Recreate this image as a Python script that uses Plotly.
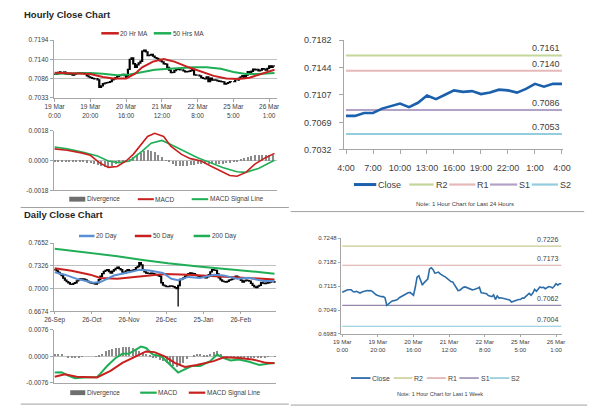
import plotly.graph_objects as go

W, H = 600, 413
def px(x): return x / W
def py(y): return 1 - y / H

FONT = "Liberation Sans, Arial, sans-serif"
TXT = "#404040"
AXC = "#a6a6a6"
GRID = "#c0c0c0"
RED = "#c8201e"
GREEN = "#1fae55"
BLUE20 = "#5b8fd4"
DIVC = "#8a8a8a"
CLOSE24 = "#1a60ad"
CLOSEW = "#2c6ca8"

# ---------------- hourly data (19 Mar 0:00 .. 26 Mar 4:00) ----------------
hourly_close = [
    0.7098, 0.7100, 0.7104, 0.7105, 0.7105, 0.7105, 0.7100, 0.7099, 0.7101, 0.7098,
    0.7096, 0.7099, 0.7101, 0.7102, 0.7103, 0.7102, 0.7103, 0.7100, 0.7094, 0.7091,
    0.7089, 0.7087, 0.7086, 0.7086, 0.7083, 0.7062, 0.7066, 0.7072, 0.7074, 0.7075,
    0.7076, 0.7078, 0.7083, 0.7086, 0.7089, 0.7093, 0.7095, 0.7097, 0.7098, 0.7095,
    0.7090, 0.7112, 0.7140, 0.7144, 0.7128, 0.7118, 0.7125, 0.7130, 0.7135, 0.7163,
    0.7166, 0.7161, 0.7151, 0.7152, 0.7154, 0.7149, 0.7145, 0.7143, 0.7140, 0.7136,
    0.7133, 0.7128, 0.7127, 0.7118, 0.7110, 0.7103, 0.7104, 0.7109, 0.7112, 0.7113,
    0.7111, 0.7111, 0.7108, 0.7105, 0.7106, 0.7107, 0.7109, 0.7112, 0.7097, 0.7096,
    0.7096, 0.7094, 0.7089, 0.7087, 0.7086, 0.7091, 0.7078, 0.7088, 0.7082, 0.7083,
    0.7082, 0.7080, 0.7079, 0.7078, 0.7077, 0.7071, 0.7073, 0.7075, 0.7078,
    0.7078, 0.7078, 0.7082, 0.7082, 0.7088, 0.7091, 0.7095, 0.7090, 0.7096, 0.7106,
    0.7101, 0.7107, 0.7113, 0.7111, 0.7112, 0.7108, 0.7110, 0.7114, 0.7113, 0.7110,
    0.7115, 0.7122, 0.7118, 0.7122, 0.7122,
]
hourly_tick_labels = ["19 Mar<br>0:00", "19 Mar<br>20:00", "20 Mar<br>16:00", "21 Mar<br>12:00",
                      "22 Mar<br>8:00", "25 Mar<br>5:00", "26 Mar<br>1:00"]
hourly_tick_step = 20

ma20_idx = [0, 9, 20, 27, 33, 40, 45, 49, 55, 61, 67, 75, 82, 89, 96, 103, 109, 116, 123]
ma20_val = [0.7103, 0.7102, 0.7099, 0.7091, 0.7087, 0.7087, 0.7100, 0.7118, 0.7134, 0.7141,
            0.7134, 0.7118, 0.7105, 0.7094, 0.7087, 0.7085, 0.7089, 0.7100, 0.7111]
ma50_idx = [0, 9, 20, 27, 35, 42, 49, 56, 64, 71, 78, 85, 93, 100, 107, 114, 123]
ma50_val = [0.7100, 0.7101, 0.7102, 0.7100, 0.7096, 0.7098, 0.7105, 0.7111, 0.7114, 0.7117,
            0.7118, 0.7118, 0.7114, 0.7105, 0.7099, 0.7099, 0.7102]

hmacd_idx = [0, 7, 15, 20, 25, 30, 35, 40, 44, 47, 52, 56, 61, 65, 71, 76, 82, 87, 93, 98,
             102, 107, 112, 118, 123]
hmacd_val = [0.00071, 0.00063, 0.00047, 0.00032, -0.00012, -0.00041, -0.00035, -0.00002,
             0.00038, 0.00077, 0.00146, 0.00165, 0.00146, 0.00087, 0.00038, 0.00012, -0.00002,
             -0.00031, -0.00061, -0.00090, -0.00094, -0.00071, -0.00021, 0.00018, 0.00044]
hsig_idx = [0, 7, 16, 24, 30, 36, 42, 49, 54, 60, 65, 73, 80, 87, 94, 102, 107, 114, 123]
hsig_val = [0.00083, 0.00071, 0.00051, 0.00028, -0.00002, -0.00012, -0.00002, 0.00057, 0.00106,
            0.00122, 0.00097, 0.00057, 0.00018, -0.00012, -0.00041, -0.00067, -0.00071,
            -0.00047, 0.00002]
hdiv_step = 2
hdiv_val = [
    -0.00004, -0.00004, -0.00005, -0.00005, -0.00006, -0.00006, -0.00007, -0.00008, -0.00010, -0.00012,
    -0.00015, -0.00020, -0.00026, -0.00032, -0.00036, -0.00036, -0.00030, -0.00022, -0.00012, -0.00005,
    0.00002, 0.00012, 0.00022, 0.00032, 0.00045, 0.00058, 0.00066, 0.00062, 0.00052, 0.00036,
    0.00020, 0.00004, -0.00010, -0.00022, -0.00030, -0.00034, -0.00034, -0.00032, -0.00028, -0.00024,
    -0.00022, -0.00020, -0.00020, -0.00020, -0.00020, -0.00020, -0.00020, -0.00018, -0.00016, -0.00012,
    -0.00008, -0.00002, 0.00006, 0.00014, 0.00022, 0.00028, 0.00032, 0.00034, 0.00035, 0.00035,
    0.00034, 0.00032,
]

# last 24 hours (25 Mar 4:00 .. 26 Mar 4:00)
last24_labels = ["4:00", "5:00", "6:00", "7:00", "8:00", "9:00", "10:00", "11:00", "12:00",
                 "13:00", "14:00", "15:00", "16:00", "17:00", "18:00", "19:00", "20:00", "21:00",
                 "22:00", "23:00", "0:00", "1:00", "2:00", "3:00", "4:00"]
last24_tick_step = 3
level_names = ["R2", "R1", "S1", "S2"]
level_colors_24 = ["#c3d69b", "#e6b9b8", "#b3a2c7", "#93cddd"]
levels_24 = [0.7161, 0.7140, 0.7086, 0.7053]
levels_week = [0.7226, 0.7173, 0.7062, 0.7004]
level_colors_week = ["#c9c98f", "#dba7a6", "#9287aa", "#86c6da"]

# ---------------- daily data (26 Sep .. 26 Mar) ----------------
daily_close = [
    0.7270, 0.7255, 0.7233, 0.7210, 0.7187, 0.7150, 0.7121, 0.7100, 0.7084, 0.7065,
    0.7061, 0.7075, 0.7084, 0.7110, 0.7131, 0.7138, 0.7140, 0.7135, 0.7125, 0.7108,
    0.7095, 0.7084, 0.7078, 0.7071, 0.7065, 0.7084, 0.7130, 0.7177, 0.7215, 0.7247,
    0.7260, 0.7270, 0.7245, 0.7224, 0.7250, 0.7270, 0.7290, 0.7307, 0.7285, 0.7270,
    0.7235, 0.7224, 0.7255, 0.7270, 0.7255, 0.7247, 0.7265, 0.7270, 0.7300, 0.7317,
    0.7372, 0.7340, 0.7270, 0.7240, 0.7224, 0.7218, 0.7214, 0.7220, 0.7214, 0.7205,
    0.7200, 0.7185, 0.7177, 0.7084, 0.7050, 0.7038, 0.7030, 0.7028, 0.7038, 0.7035,
    0.7028, 0.7015, 0.7000, 0.7045, 0.7131, 0.7140, 0.7154, 0.7180, 0.7200, 0.7215,
    0.7224, 0.7218, 0.7214, 0.7195, 0.7187, 0.7168, 0.7172, 0.7177, 0.7165, 0.7154,
    0.7170, 0.7200, 0.7240, 0.7270, 0.7265, 0.7261, 0.7210, 0.7154, 0.7125, 0.7108,
    0.7100, 0.7094, 0.7105, 0.7121, 0.7130, 0.7140, 0.7160, 0.7177, 0.7165, 0.7154,
    0.7120, 0.7094, 0.7110, 0.7121, 0.7115, 0.7108, 0.7075, 0.7047, 0.7025, 0.7014,
    0.7035, 0.7047, 0.7084, 0.7078, 0.7071, 0.7078, 0.7084, 0.7095, 0.7108, 0.7100,
    0.7094,
]
daily_flash_idx = 73
daily_flash_low = 0.6745
daily_tick_labels = ["26-Sep", "26-Oct", "26-Nov", "26-Dec", "25-Jan", "26-Feb"]
daily_tick_step = 22

d20_idx = [0, 6, 13, 23, 27, 35, 44, 50, 56, 64, 69, 73, 79, 86, 94, 100, 108, 115, 123, 130]
d20_val = [0.7233, 0.7200, 0.7140, 0.7084, 0.7094, 0.7187, 0.7233, 0.7270, 0.7261, 0.7224,
           0.7140, 0.7120, 0.7168, 0.7154, 0.7200, 0.7187, 0.7140, 0.7154, 0.7108, 0.7108]
d50_idx = [0, 10, 21, 27, 37, 52, 65, 79, 90, 102, 113, 130]
d50_val = [0.7293, 0.7256, 0.7200, 0.7153, 0.7140, 0.7177, 0.7209, 0.7200, 0.7187, 0.7165,
           0.7150, 0.7131]
d200_idx = [0, 18, 37, 52, 67, 85, 102, 117, 130]
d200_val = [0.7572, 0.7525, 0.7465, 0.7410, 0.7362, 0.7316, 0.7284, 0.7247, 0.7214]

dmacd_idx = [0, 4, 8, 12, 17, 25, 27, 31, 36, 40, 44, 48, 51, 54, 58, 63, 67, 73, 75, 81, 86,
             92, 96, 100, 104, 109, 115, 121, 127, 130]
dmacd_val = [-0.0047, -0.0046, -0.0056, -0.0063, -0.0061, -0.0060, -0.0050, -0.0028, -0.0005,
             0.0007, 0.0008, 0.0019, 0.0028, 0.0024, 0.0005, 0.0000, -0.0019, -0.0047, -0.0042,
             -0.0028, -0.0028, -0.0014, 0.0005, -0.0005, -0.0012, -0.0009, -0.0016, -0.0025,
             -0.0021, -0.0019]
dsig_idx = [0, 6, 13, 25, 33, 40, 48, 54, 59, 65, 71, 77, 84, 94, 100, 109, 117, 125, 130]
dsig_val = [-0.0059, -0.0052, -0.0059, -0.0061, -0.0042, -0.0019, 0.0000, 0.0014, 0.0012,
            0.0000, -0.0019, -0.0031, -0.0025, -0.0014, -0.0003, -0.0005, -0.0009, -0.0019,
            -0.0020]
ddiv_step = 2
ddiv_val = [
    0.0008, 0.0008, 0.0006, 0.0000, -0.0004, -0.0005, -0.0005, -0.0003, -0.0001, 0.0000,
    0.0000, 0.0000, 0.0001, 0.0003, 0.0008, 0.0014, 0.0018, 0.0021, 0.0024, 0.0025,
    0.0026, 0.0027, 0.0026, 0.0024, 0.0020, 0.0016, 0.0012, 0.0008, 0.0003, -0.0002,
    -0.0006, -0.0010, -0.0014, -0.0019, -0.0024, -0.0028, -0.0030, -0.0026, -0.0018, -0.0008,
    0.0000, 0.0004, 0.0006, 0.0006, 0.0005, 0.0005, 0.0006, 0.0012, 0.0016, 0.0008,
    0.0000, -0.0004, -0.0004, -0.0003, -0.0003, -0.0004, -0.0004, -0.0005, -0.0006, -0.0006,
    -0.0006, -0.0005, -0.0003, -0.0001, 0.0000, 0.0001,
]

yt_A = [0.7033, 0.7086, 0.7140, 0.7194]
yt_B = [-0.0018, 0.0, 0.0018]
yt_C = [0.7032, 0.7069, 0.7107, 0.7144, 0.7182]
yt_D = [0.6674, 0.7000, 0.7326, 0.7652]
yt_E = [-0.0076, 0.0, 0.0076]
yt_F = [0.6983, 0.7049, 0.7115, 0.7182, 0.7248]

# ---------------- derived series ----------------
h_idx = list(range(len(hourly_close)))
h_open = [hourly_close[0]] + hourly_close[:-1]
h_high = [max(o, c) for o, c in zip(h_open, hourly_close)]
h_low = [min(o, c) for o, c in zip(h_open, hourly_close)]

d_idx = list(range(len(daily_close)))
d_open = [daily_close[0]] + daily_close[:-1]
d_high = [max(o, c) for o, c in zip(d_open, daily_close)]
d_low = [min(o, c) for o, c in zip(d_open, daily_close)]
d_low[daily_flash_idx] = daily_flash_low

hdiv_idx = list(range(0, len(hdiv_val) * hdiv_step, hdiv_step))
ddiv_idx = list(range(0, len(ddiv_val) * ddiv_step, ddiv_step))

c24 = hourly_close[-len(last24_labels):]
c24_idx = list(range(len(c24)))

fig = go.Figure()

def line(x, y, color, width, xa, ya):
    fig.add_trace(go.Scatter(x=x, y=y, mode="lines", line=dict(color=color, width=width),
                             xaxis=xa, yaxis=ya, showlegend=False, hoverinfo="skip"))

candle_style = dict(line=dict(color="black", width=1.3), fillcolor="black")

# Panel A: hourly candles + MAs
fig.add_trace(go.Candlestick(x=h_idx, open=h_open, high=h_high, low=h_low, close=hourly_close,
                             increasing=candle_style, decreasing=candle_style,
                             whiskerwidth=0, xaxis="x", yaxis="y", showlegend=False, hoverinfo="skip"))
line(ma50_idx, ma50_val, GREEN, 2, "x", "y")
line(ma20_idx, ma20_val, RED, 2, "x", "y")

# Panel B: hourly MACD
fig.add_trace(go.Bar(x=hdiv_idx, y=hdiv_val, width=0.7, marker=dict(color=DIVC, line=dict(width=0)),
                     xaxis="x2", yaxis="y2", showlegend=False, hoverinfo="skip"))
line(hsig_idx, hsig_val, GREEN, 1.6, "x2", "y2")
line(hmacd_idx, hmacd_val, RED, 1.6, "x2", "y2")

# Panel C: last 24 hours
for lv, col in zip(levels_24, level_colors_24):
    line(c24_idx, [lv] * len(c24_idx), col, 2, "x3", "y3")
line(c24_idx, c24, CLOSE24, 2.6, "x3", "y3")

# Panel D: daily candles + MAs
fig.add_trace(go.Candlestick(x=d_idx, open=d_open, high=d_high, low=d_low, close=daily_close,
                             increasing=candle_style, decreasing=candle_style,
                             whiskerwidth=0, xaxis="x4", yaxis="y4", showlegend=False, hoverinfo="skip"))
line(d200_idx, d200_val, GREEN, 2, "x4", "y4")
line(d50_idx, d50_val, RED, 2, "x4", "y4")
line(d20_idx, d20_val, BLUE20, 2, "x4", "y4")

# Panel E: daily MACD
fig.add_trace(go.Bar(x=ddiv_idx, y=ddiv_val, width=0.7, marker=dict(color=DIVC, line=dict(width=0)),
                     xaxis="x5", yaxis="y5", showlegend=False, hoverinfo="skip"))
line(dmacd_idx, dmacd_val, GREEN, 2, "x5", "y5")
line(dsig_idx, dsig_val, RED, 2, "x5", "y5")

# Panel F: last week hourly
for lv, col in zip(levels_week, level_colors_week):
    line(h_idx, [lv] * len(h_idx), col, 1.2, "x6", "y6")
line(h_idx, hourly_close, CLOSEW, 1.6, "x6", "y6")


def xax(x0, x1, rng, anchor, tickvals=None, ticktext=None, size=6.5, show=True, ticklen=3, standoff=None):
    d = dict(domain=[px(x0), px(x1)], range=rng, anchor=anchor, showgrid=False, zeroline=False,
             showline=True, linecolor=AXC, linewidth=1, fixedrange=True,
             rangeslider=dict(visible=False),
             tickfont=dict(size=size, color=TXT, family=FONT))
    if show:
        d.update(tickmode="array", tickvals=tickvals, ticktext=ticktext, ticks="outside",
                 ticklen=ticklen, tickcolor=AXC)
        if standoff is not None:
            d["ticklabelstandoff"] = standoff
    else:
        d.update(showticklabels=False, ticks="")
    return d


def yax(y_top, y_bot, rng, anchor, ticks, grid=True, size=6.5, ticklen=3, standoff=None):
    d = dict(domain=[py(y_bot), py(y_top)], range=rng, anchor=anchor, showgrid=grid, gridcolor=GRID,
             gridwidth=1, zeroline=False, showline=True, linecolor=AXC, linewidth=1, fixedrange=True,
             tickmode="array", tickvals=ticks, ticktext=[f"{v:.4f}" for v in ticks],
             ticks="outside", ticklen=ticklen, tickcolor=AXC,
             tickfont=dict(size=size, color=TXT, family=FONT))
    if standoff is not None:
        d["ticklabelstandoff"] = standoff
    return d


h_tickvals = [i * hourly_tick_step for i in range(len(hourly_tick_labels))]
d_tickvals = [i * daily_tick_step for i in range(len(daily_tick_labels))]
c_tickvals = list(range(0, len(last24_labels), last24_tick_step))
c_ticktext = [last24_labels[i] for i in c_tickvals]

fig.update_layout(
    width=W, height=H, margin=dict(l=0, r=0, t=0, b=0),
    paper_bgcolor="white", plot_bgcolor="white", showlegend=False,
    font=dict(family=FONT, color=TXT),
    bargap=0,
    xaxis=xax(46, 276, [-0.5, 124.5], "y", h_tickvals, hourly_tick_labels),
    yaxis=yax(36, 95, [yt_A[0], yt_A[-1]], "x", yt_A),
    xaxis2=xax(46, 276, [-0.5, 124.5], "y2", show=False),
    yaxis2=yax(129, 190, [yt_B[0], yt_B[-1]], "x2", yt_B),
    xaxis3=xax(345, 570, [-0.2, 24.1], "y3", c_tickvals, c_ticktext, size=9, ticklen=4, standoff=6),
    yaxis3=yax(36, 148, [yt_C[0], yt_C[-1]], "x3", yt_C, grid=False, size=9, ticklen=4, standoff=6),
    xaxis4=xax(46, 275, [-0.6, 131], "y4", d_tickvals, daily_tick_labels, ticklen=2),
    yaxis4=yax(244, 314, [yt_D[0], yt_D[-1]], "x4", yt_D),
    xaxis5=xax(46, 275, [-0.6, 131], "y5", show=False),
    yaxis5=yax(333, 387, [yt_E[0], yt_E[-1]], "x5", yt_E),
    xaxis6=xax(341.5, 569, [-0.8, 123.3], "y6", h_tickvals, hourly_tick_labels, size=6, ticklen=2),
    yaxis6=yax(239, 337, [yt_F[0], yt_F[-1]], "x6", yt_F, grid=False, size=6, ticklen=2),
)

shapes = []
annots = []

def ltext(x, y, text, size=6.5, anchor="left", bold=False, color=TXT):
    annots.append(dict(xref="paper", yref="paper", x=px(x), y=py(y), text=f"<b>{text}</b>" if bold else text,
                       showarrow=False, xanchor=anchor, yanchor="middle",
                       font=dict(size=size, color=color, family=FONT), borderpad=0))

def lline(x0, x1, y, color, width):
    shapes.append(dict(type="line", xref="paper", yref="paper", x0=px(x0), x1=px(x1), y0=py(y), y1=py(y),
                       line=dict(color=color, width=width)))

def lrect(x0, x1, y0, y1, color):
    shapes.append(dict(type="rect", xref="paper", yref="paper", x0=px(x0), x1=px(x1), y0=py(y1), y1=py(y0),
                       fillcolor=color, line=dict(width=0)))

# titles
ltext(14, 9.5, "Hourly Close Chart", size=9.5, bold=True, color="#262626")
ltext(14, 214.5, "Daily Close Chart", size=9.5, bold=True, color="#262626")

# legend A
lline(95, 113, 29, RED, 2.5); ltext(113.5, 29, "20 Hr MA")
lline(149, 167, 29, GREEN, 2.5); ltext(167.5, 29, "50 Hrs MA")
# legend B
lrect(62, 78.5, 196.5, 201.5, "#6e6e6e"); ltext(79.5, 199, "Divergence")
lline(132.5, 149, 199, RED, 2); ltext(149.5, 199, "MACD")
lline(188, 205, 199, GREEN, 2); ltext(205.5, 199, "MACD Signal Line")
# legend C
lline(355, 378, 184, CLOSE24, 3); ltext(378.5, 184, "Close", size=9)
names_x_24 = [(412, 437), (453, 480), (495, 523), (538, 565)]
for (a, b), nm, col in zip(names_x_24, level_names, level_colors_24):
    lline(a, b, 184, col, 2.2); ltext(b + 1, 184, nm, size=9)
ltext(469, 203.5, "Note: 1 Hour Chart for Last 24 Hours", size=6, anchor="center")
# legend D
lline(72, 88, 236.7, BLUE20, 2.5); ltext(88, 236.7, "20 Day")
lline(129.5, 146.5, 236.7, RED, 2.5); ltext(147, 236.7, "50 Day")
lline(190, 207, 236.7, GREEN, 2.5); ltext(207.5, 236.7, "200 Day")
# legend E
lrect(63, 78.5, 394.8, 399.8, "#6e6e6e"); ltext(79.5, 397.3, "Divergence")
lline(135, 152, 397.3, GREEN, 2.2); ltext(152.5, 397.3, "MACD")
lline(185, 202, 397.3, RED, 2.2); ltext(202.5, 397.3, "MACD Signal Line")
# legend F
lline(352, 372, 382.3, CLOSEW, 1.8); ltext(372.5, 382.3, "Close", size=7)
names_x_w = [(396, 415), (430, 449.5), (463.5, 483.5), (495, 515)]
for (a, b), nm, col in zip(names_x_w, level_names, level_colors_week):
    lline(a, b, 382.3, col, 1.5); ltext(b + 1, 382.3, nm, size=7)
ltext(444, 398.3, "Note: 1 Hour Chart for Last 1 Week", size=5.5, anchor="center")

# level value labels
for lv in levels_24:
    annots.append(dict(xref="x3", yref="y3", x=c24_idx[-1], y=lv, text=f"{lv:.4f}", showarrow=False,
                       xanchor="right", yanchor="bottom", yshift=0,
                       font=dict(size=9, color=TXT, family=FONT)))
for lv in levels_week:
    annots.append(dict(xref="x6", yref="y6", x=h_idx[-1], y=lv, text=f"{lv:.4f}", showarrow=False,
                       xanchor="right", yanchor="bottom", yshift=1,
                       font=dict(size=7, color=TXT, family=FONT)))

# section separators
lline(12, 288, 207.5, "#a0a0a0", 1)
lline(290, 592, 211.7, "#a0a0a0", 1)
lline(12, 288, 409, "#a0a0a0", 1)
lline(290, 595, 410, "#a0a0a0", 1)

fig.update_layout(shapes=shapes, annotations=annots)

fig.write_html("out.html", config={"displayModeBar": False},
               post_script="document.body.style.margin='0';document.body.style.overflow='hidden';")
